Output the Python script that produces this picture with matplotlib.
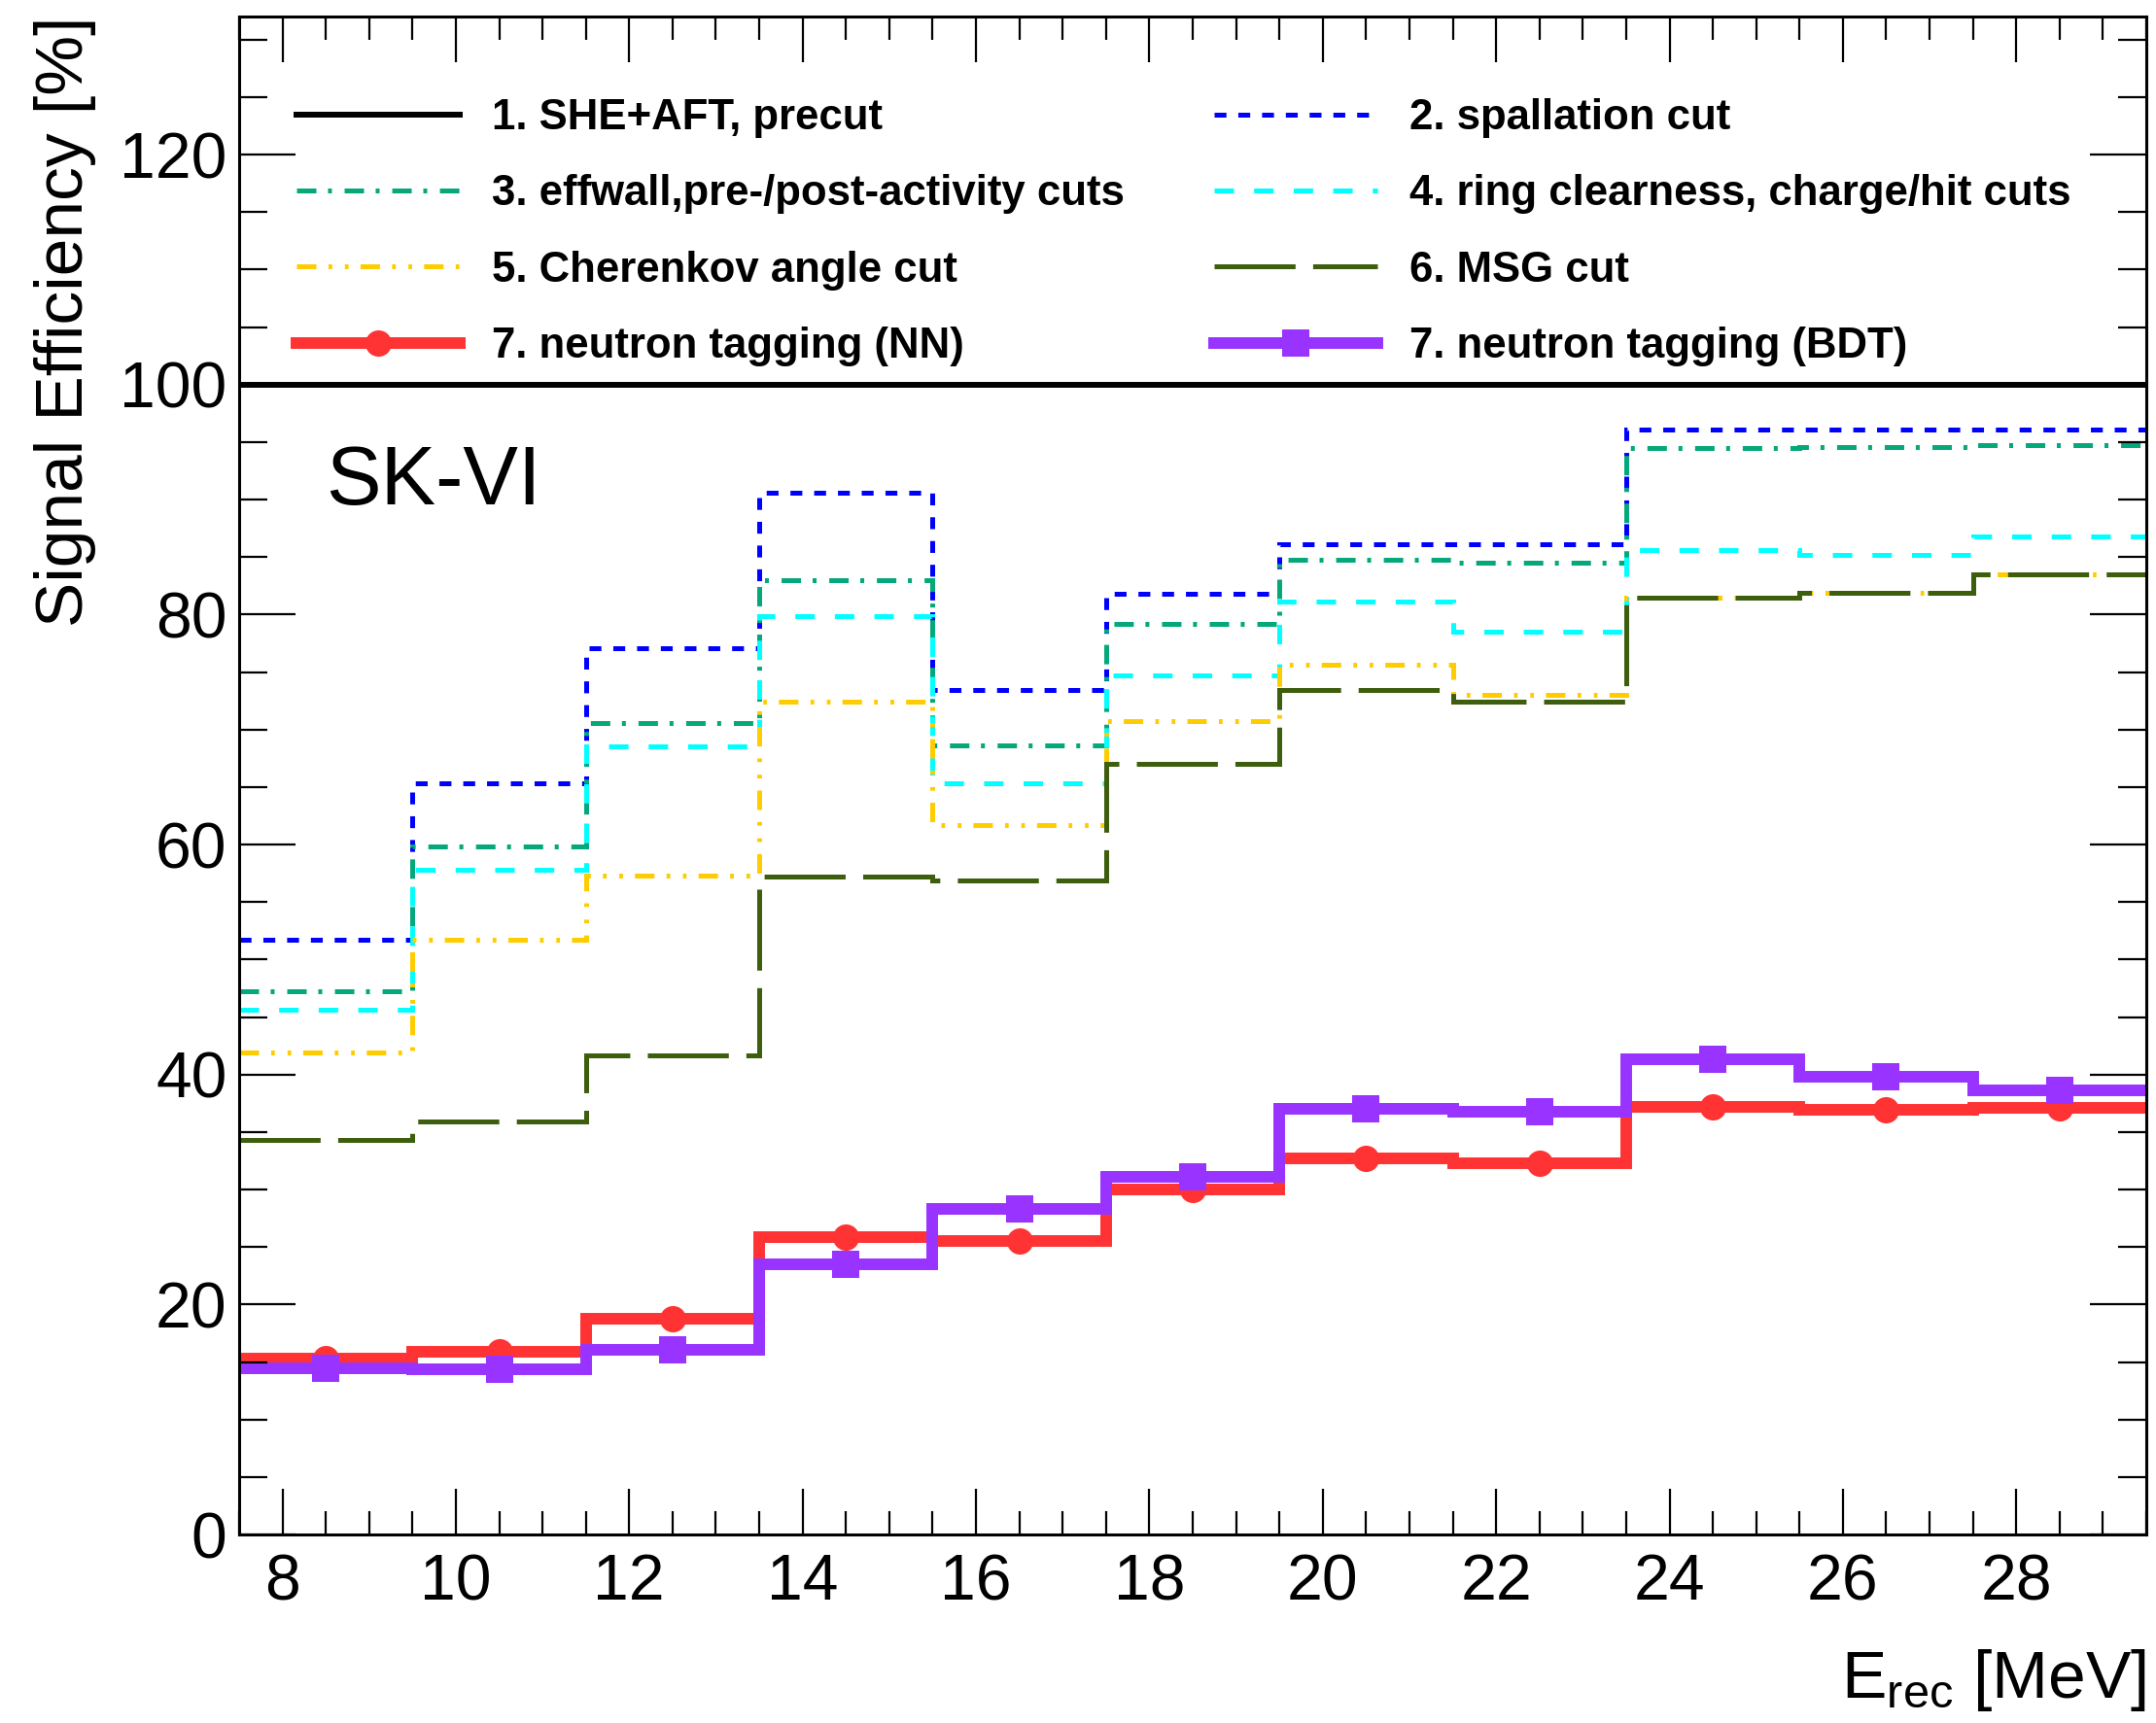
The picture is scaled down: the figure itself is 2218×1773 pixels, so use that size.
import matplotlib
matplotlib.use("Agg")
import matplotlib.pyplot as plt
from matplotlib.lines import Line2D
from matplotlib.ticker import MultipleLocator

# Reconstructed-energy bin edges [MeV]
bin_edges = [7.5, 9.5, 11.5, 13.5, 15.5, 17.5, 19.5, 21.5, 23.5, 25.5, 27.5, 29.5]
bin_centers = [8.5, 10.5, 12.5, 14.5, 16.5, 18.5, 20.5, 22.5, 24.5, 26.5, 28.5]

# Cumulative signal efficiency [%] after each selection step
eff_precut = [100, 100, 100, 100, 100, 100, 100, 100, 100, 100, 100]
eff_spallation = [51.7, 65.3, 77.1, 90.6, 73.4, 81.8, 86.1, 86.1, 96.1, 96.1, 96.1]
eff_effwall = [47.2, 59.8, 70.6, 83.0, 68.6, 79.2, 84.8, 84.5, 94.5, 94.6, 94.7]
eff_ring = [45.6, 57.8, 68.5, 79.9, 65.3, 74.7, 81.1, 78.5, 85.6, 85.2, 86.8]
eff_cherenkov = [41.9, 51.7, 57.3, 72.4, 61.7, 70.7, 75.6, 73.0, 81.5, 81.9, 83.5]
eff_msg = [34.3, 35.9, 41.7, 57.2, 56.9, 67.0, 73.4, 72.4, 81.5, 81.9, 83.5]
eff_ntag_nn = [15.3, 15.9, 18.8, 25.9, 25.5, 30.0, 32.7, 32.3, 37.2, 36.9, 37.1]
eff_ntag_bdt = [14.45, 14.35, 16.1, 23.5, 28.3, 31.1, 37.0, 36.8, 41.3, 39.8, 38.6]

labels = [
    "1. SHE+AFT, precut",
    "2. spallation cut",
    "3. effwall,pre-/post-activity cuts",
    "4. ring clearness, charge/hit cuts",
    "5. Cherenkov angle cut",
    "6. MSG cut",
    "7. neutron tagging (NN)",
    "7. neutron tagging (BDT)",
]

plt.rcParams["font.family"] = ["Liberation Sans", "DejaVu Sans"]
plt.rcParams["mathtext.fontset"] = "custom"
plt.rcParams["mathtext.rm"] = "Liberation Sans"
plt.rcParams["mathtext.it"] = "Liberation Sans:italic"
plt.rcParams["lines.scale_dashes"] = False

fig = plt.figure(figsize=(22.18, 17.73), dpi=100)
ax = fig.add_axes([0.1109, 0.1094, 0.9955 - 0.1109, 0.9904 - 0.1094])

thin = 3.6
styles = [
    dict(color="black", lw=4.3, ls="-"),
    dict(color="#0000FF", lw=thin, ls=(0, (8.8, 8.8))),
    dict(color="#05A87A", lw=thin, ls=(0, (14.4, 8.6, 2.9, 9.4))),
    dict(color="#00FFFF", lw=thin, ls=(0, (14.4, 14.9))),
    dict(color="#FFCC00", lw=thin, ls=(0, (14.4, 9.0, 2.7, 9.4, 2.7, 8.9))),
    dict(color="#3D5E0C", lw=thin, ls=(0, (60, 13))),
    dict(color="#FF3333", lw=8.6, ls="-"),
    dict(color="#9933FF", lw=8.6, ls="-"),
]
series = [eff_precut, eff_spallation, eff_effwall, eff_ring,
          eff_cherenkov, eff_msg, eff_ntag_nn, eff_ntag_bdt]
markers = [None, None, None, None, None, None, "o", "s"]

handles = []
for vals, st, mk in zip(series, styles, markers):
    ax.stairs(vals, bin_edges, baseline=None, color=st["color"],
              linewidth=st["lw"], linestyle=st["ls"])
    if mk is not None:
        ax.plot(bin_centers, vals, linestyle="none", marker=mk,
                markersize=19.5, markeredgewidth=0, color=st["color"])
    handles.append(Line2D([], [], color=st["color"], linewidth=st["lw"],
                          linestyle=st["ls"], marker=mk, markersize=19.5,
                          markeredgewidth=0, dash_capstyle="butt"))

ax.set_xlim(7.5, 29.5)
ax.set_ylim(0, 132)

ax.xaxis.set_major_locator(MultipleLocator(2))
ax.xaxis.set_minor_locator(MultipleLocator(0.5))
ax.yaxis.set_major_locator(MultipleLocator(20))
ax.yaxis.set_minor_locator(MultipleLocator(5))

ax.tick_params(axis="both", which="both", direction="in",
               top=True, right=True, width=1.6, labelsize=47.5)
ax.tick_params(axis="x", which="major", length=34, pad=14)
ax.tick_params(axis="x", which="minor", length=17)
ax.tick_params(axis="y", which="major", length=42, pad=9)
ax.tick_params(axis="y", which="minor", length=21)
for sp in ax.spines.values():
    sp.set_linewidth(2.2)

ax.set_ylabel("Signal Efficiency [%]", fontsize=50, loc="top")
ax.yaxis.label.set_va("baseline")
ax.yaxis.set_label_coords(-0.082, 1.0)

ax.set_xlabel(r"E$_{\mathrm{rec}}$ [MeV]", fontsize=50, loc="right")
ax.xaxis.label.set_va("baseline")
ax.xaxis.set_label_coords(1.0, -0.1076)

ax.text(8.5, 89.6, "SK-VI", fontsize=61, ha="left", va="baseline")

# Legend entries run row by row across two columns
order = [0, 2, 4, 6, 1, 3, 5, 7]
leg = ax.legend([handles[i] for i in order], [labels[i] for i in order],
                ncol=2, loc="upper left",
                bbox_to_anchor=(0.0301, 0.9463), frameon=False,
                borderpad=0, borderaxespad=0, handlelength=3.85,
                handletextpad=0.75, columnspacing=2.09, labelspacing=0.855,
                numpoints=1, prop={"weight": "bold", "size": 31.5})

fig.savefig("out.png", dpi=100)
